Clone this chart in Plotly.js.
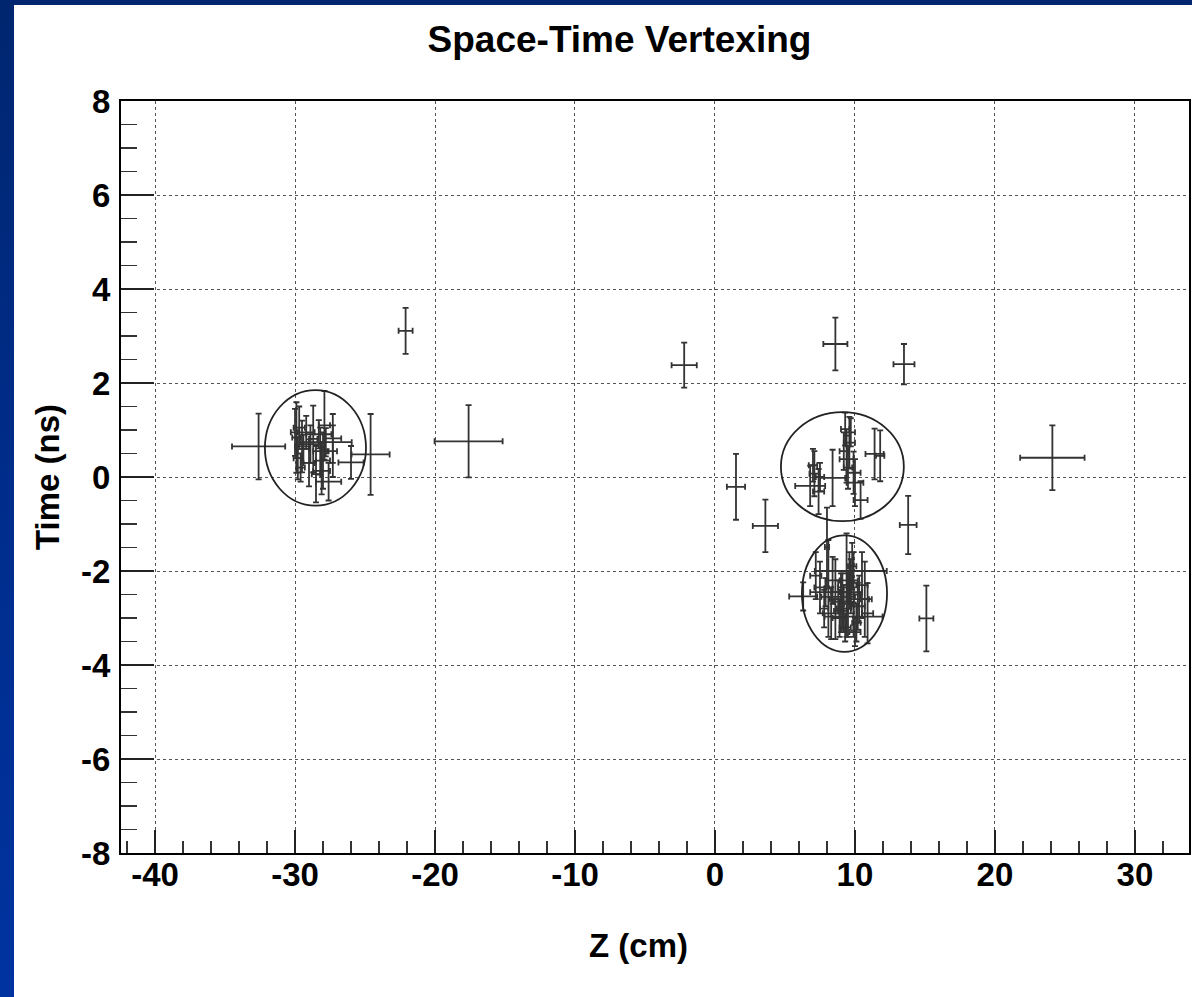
<!DOCTYPE html>
<html>
<head>
<meta charset="utf-8">
<script src="https://cdn.plot.ly/plotly-3.0.1.min.js"></script>
<style>
html,body{margin:0;padding:0;width:1192px;height:997px;overflow:hidden;
background:linear-gradient(180deg,#00266f 0%,#002d8c 50%,#0033a0 100%);}
#chart{position:absolute;left:14px;top:5px;width:1178px;height:992px;background:#fff;}
</style>
</head>
<body>
<div id="chart"></div>
<script>
// Isolated vertex candidates
const isoZ  = [-22.1, -17.6, -2.2, 8.6, 13.5, 24.1, 13.8, 15.1, 1.5, 3.6, -32.6, -24.6];
const isoT  = [3.11, 0.76, 2.38, 2.83, 2.40, 0.41, -1.02, -3.01, -0.21, -1.04, 0.65, 0.48];
const isoEZ = [0.5, 2.43, 0.9, 0.86, 0.75, 2.3, 0.6, 0.5, 0.65, 0.9, 1.9, 1.36];
const isoET = [0.49, 0.77, 0.48, 0.56, 0.43, 0.69, 0.62, 0.7, 0.7, 0.56, 0.7, 0.86];

// Left cluster tracks
const leftZ  = [-29.9, -29.7, -29.5, -29.8, -29.2, -28.7, -28.5, -27.9, -27.3, -27.8, -26.0, -27.6, -28.1, -28.2, -29.0, -28.9, -28.3, -29.6, -30.0, -27.3, -28.0, -29.4];
const leftT  = [0.84, 1.05, 0.65, 0.40, 0.95, 0.81, 0.06, 1.10, 0.55, 0.74, 0.31, -0.10, 0.13, 0.55, 0.30, 0.70, 0.91, 0.20, 0.95, 0.82, 0.35, 0.60];
const leftEZ = [0.3, 0.4, 0.5, 0.3, 0.6, 0.3, 0.3, 0.4, 0.3, 1.85, 0.9, 0.9, 0.6, 0.5, 0.4, 0.8, 0.9, 0.3, 0.3, 0.6, 0.5, 0.4];
const leftET = [0.75, 0.45, 0.55, 0.45, 0.35, 0.71, 0.60, 0.73, 0.55, 0.3, 0.35, 0.4, 0.5, 0.5, 0.5, 0.4, 0.3, 0.3, 0.5, 0.52, 0.6, 0.3];

// Upper right cluster tracks
const midZ  = [6.8, 7.1, 8.4, 7.4, 7.0, 9.4, 9.6, 9.3, 9.9, 10.0, 10.4, 11.4, 11.8, 9.5, 9.7, 8.0, 7.5, 9.2];
const midT  = [-0.19, 0.07, -0.02, -0.31, 0.25, 0.38, 0.73, 1.02, 0.09, -0.12, -0.49, 0.49, 0.45, 0.20, 0.95, -1.49, 0.0, 0.55];
const midEZ = [1.07, 0.35, 0.9, 0.4, 0.3, 0.5, 0.4, 0.3, 0.5, 0.6, 0.5, 0.65, 0.3, 0.3, 0.3, 0.15, 0.3, 0.3];
const midET = [0.43, 0.48, 0.6, 0.48, 0.35, 0.5, 0.55, 0.35, 0.45, 0.5, 0.4, 0.54, 0.54, 0.45, 0.3, 0.84, 0.3, 0.4];

// Lower right cluster tracks
const lowZ  = [9.7, 6.3, 7.5, 8.1, 8.6, 9.4, 9.9, 10.9, 9.9, 10.3, 9.2, 9.6, 8.9, 10.5, 9.0, 7.2, 10.1, 9.5, 8.4, 9.8, 10.7, 9.3, 7.8, 8.8, 9.1, 9.7, 10.2, 8.3, 9.5, 10.0, 7.9, 9.0];
const lowT  = [-2.0, -2.54, -2.35, -2.37, -2.6, -2.3, -2.5, -2.9, -2.97, -2.6, -2.8, -2.2, -3.0, -2.3, -2.45, -2.1, -3.1, -2.7, -2.2, -1.9, -2.6, -3.2, -2.8, -2.55, -2.65, -2.45, -2.75, -2.9, -2.35, -3.3, -2.45, -2.85];
const lowEZ = [2.57, 1.0, 0.4, 0.3, 0.4, 0.4, 0.5, 0.4, 2.07, 0.9, 0.5, 0.6, 0.5, 0.4, 0.7, 0.4, 0.3, 0.3, 0.5, 0.3, 0.3, 0.4, 0.3, 1.2, 0.6, 0.8, 0.5, 0.6, 0.7, 0.4, 1.1, 0.5];
const lowET = [0.25, 0.3, 0.55, 1.03, 0.85, 1.1, 0.9, 0.64, 0.3, 0.5, 0.5, 0.6, 0.4, 0.7, 0.4, 0.5, 0.4, 0.7, 0.5, 0.5, 0.8, 0.3, 0.4, 0.35, 0.6, 0.45, 0.5, 0.55, 0.3, 0.3, 0.3, 0.45];

// Fitted vertex ellipses: centre and half-axes
const ellZ  = [-28.54, 9.1, 9.25];
const ellT  = [0.62, 0.22, -2.48];
const ellRZ = [3.61, 4.39, 3.04];
const ellRT = [1.23, 1.16, 1.24];

// Axis ticks
const xTicks = [-40, -30, -20, -10, 0, 10, 20, 30];
const yTicks = [-8, -6, -4, -2, 0, 2, 4, 6, 8];

const LC = '#333333';
function trace(z, t, ez, et) {
  return {
    type: 'scatter', mode: 'markers', x: z, y: t,
    marker: {size: 1, color: LC},
    error_x: {type: 'data', array: ez, visible: true, color: LC, thickness: 1.8, width: 3},
    error_y: {type: 'data', array: et, visible: true, color: LC, thickness: 1.8, width: 3},
    hoverinfo: 'x+y', showlegend: false
  };
}
const data = [
  trace(isoZ, isoT, isoEZ, isoET),
  trace(leftZ, leftT, leftEZ, leftET),
  trace(midZ, midT, midEZ, midET),
  trace(lowZ, lowT, lowEZ, lowET)
];

const shapes = ellZ.map((z, i) => ({
  type: 'circle', xref: 'x', yref: 'y',
  x0: z - ellRZ[i], x1: z + ellRZ[i], y0: ellT[i] - ellRT[i], y1: ellT[i] + ellRT[i],
  line: {color: '#222', width: 1.8}
}));

const FONT = 'Liberation Sans, Arial, Helvetica, sans-serif';
const layout = {
  width: 1178, height: 992,
  paper_bgcolor: '#ffffff', plot_bgcolor: '#ffffff',
  margin: {l: 107, r: 3, t: 96, b: 144},
  showlegend: false,
  font: {family: FONT, color: '#000'},
  title: {text: 'Space-Time Vertexing', font: {family: FONT, size: 37, weight: 'bold', color: '#000'},
          xref: 'container', yref: 'container', x: 0.514, xanchor: 'center', y: 0.966, yanchor: 'middle'},
  xaxis: {
    range: [-42.43, 33.86], tickmode: 'array', tickvals: xTicks, ticktext: xTicks.map(String),
    ticks: 'inside', ticklen: 23, tickwidth: 1.5, tickcolor: '#222',
    minor: {dtick: 2, tick0: 0, ticks: 'inside', ticklen: 12, tickwidth: 1.2, tickcolor: '#333', showgrid: false},
    showgrid: true, gridcolor: '#555', griddash: 'dot', gridwidth: 1,
    showline: true, linecolor: '#000', linewidth: 2, mirror: true,
    zeroline: false, tickfont: {family: FONT, size: 33, weight: 'bold', color: '#000'},
    ticklabelstandoff: -9
  },
  yaxis: {
    range: [-8, 8], tickmode: 'array', tickvals: yTicks, ticktext: yTicks.map(String),
    ticks: 'inside', ticklen: 33, tickwidth: 1.5, tickcolor: '#222',
    minor: {dtick: 0.5, tick0: 0, ticks: 'inside', ticklen: 16, tickwidth: 1.2, tickcolor: '#333', showgrid: false},
    showgrid: true, gridcolor: '#555', griddash: 'dot', gridwidth: 1,
    showline: true, linecolor: '#000', linewidth: 2, mirror: true,
    zeroline: false, tickfont: {family: FONT, size: 33, weight: 'bold', color: '#000'},
    ticklabelstandoff: 2
  },
  shapes: shapes,
  annotations: [
    {text: 'Z (cm)', xref: 'paper', yref: 'paper', x: (638 - 121) / 1068, y: -(940 - 848) / 747.3,
     xanchor: 'center', yanchor: 'middle', showarrow: false,
     font: {family: FONT, size: 33, weight: 'bold', color: '#000'}},
    {text: 'Time (ns)', xref: 'paper', yref: 'paper', x: -(121 - 47) / 1068, y: 0.5,
     xanchor: 'center', yanchor: 'middle', textangle: -90, showarrow: false,
     font: {family: FONT, size: 33, weight: 'bold', color: '#000'}}
  ]
};
Plotly.newPlot('chart', data, layout, {staticPlot: true, displayModeBar: false});
</script>
</body>
</html>
